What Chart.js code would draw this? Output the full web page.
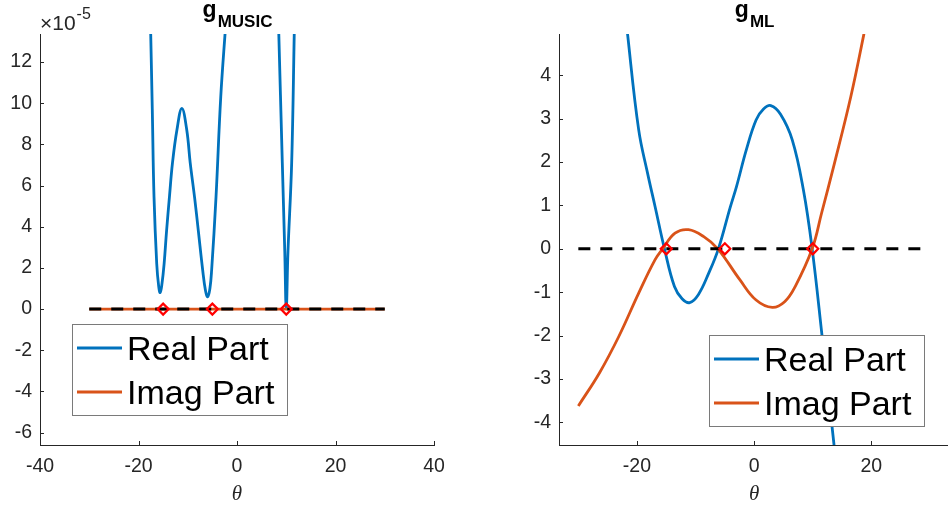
<!DOCTYPE html>
<html>
<head>
<meta charset="utf-8">
<script src="https://cdn.jsdelivr.net/npm/chart.js@4.4.1/dist/chart.umd.min.js"></script>
<style>
  html, body { margin: 0; padding: 0; background: #fff; overflow: hidden; }
  #wrap { position: relative; width: 948px; height: 506px; }
  canvas { position: absolute; top: 0; }
</style>
</head>
<body>
<div id="wrap">
  <canvas id="musicChart" width="474" height="506" style="left:0"></canvas>
  <canvas id="mlChart" width="483" height="506" style="left:474px"></canvas>
</div>
<script>
// g_MUSIC real part, in units of 1e-5 (null splits the curve where it leaves the axes)
const musicTheta = [-17.55, -17.2, -16.85, -16.3, -15.9, -15.6, -15.25, -14.8, -14.3, -13.7, -13.1, -12.2, -11.2,
  -10.2, -9.5, -8.6, -7.85, -6.97, -6.4, -5.95, -5.5, -5.15, -4.26, -3.3, -2.3,
  3,
  8.45, 9.2, 9.7, 10, 10.35, 11.1, 11.65];
const musicReal = [13.7, 9.7, 5.45, 2.2, 1.1, 0.8, 1.2, 2.2, 3.8, 5.5, 7.1, 8.7, 9.75,
  8.7, 7.1, 5.4, 3.8, 1.9, 0.9, 0.6, 1.0, 1.9, 5.45, 10.3, 13.8,
  null,
  13.7, 7.1, 2.8, 0, 2.8, 7.1, 13.7];
const musicImagTheta = [-30, 30];
const musicImag = [0, 0];

// g_ML
const mlRealTheta = [-21.8, -21.6, -19.7, -18.2, -16.9, -15.3, -13.6, -12.3, -11.0, -9.5, -7.75, -6.1, -4.1, -3, -1.34, 0.33,
  1.6, 2.84, 4.5, 6.5, 8.4, 9.9, 11.6, 13.6, 13.8];
const mlReal = [5.3, 4.95, 2.74, 1.75, 0.97, 0, -0.87, -1.15, -1.24, -1.05, -0.56, 0, 0.95, 1.44, 2.28, 2.97,
  3.22, 3.3, 3.1, 2.51, 1.36, 0, -2.02, -4.48, -4.8];
const mlImagTheta = [-30, -26.4, -23.1, -19.7, -16.9, -15.6, -13.5, -11.2, -8.6, -6.2, -2.45, 0.33, 3.1,
  5.2, 7.0, 9.9, 11.5, 13.7, 16.5, 18.7, 18.9];
const mlImag = [-3.62, -2.86, -2.02, -1.02, -0.25, 0, 0.36, 0.44, 0.28, 0, -0.71, -1.18, -1.35,
  -1.22, -0.87, 0, 0.82, 1.97, 3.51, 4.93, 5.1];

// zero reference and the true directions
const zeroTheta = [-30, 30];
const zeroLine = [0, 0];
const rootTheta = [-15, -5, 10];
const rootValue = [0, 0, 0];

// tick labels
const musicXTicks = [-40, -20, 0, 20, 40];
const musicYTicks = [-6, -4, -2, 0, 2, 4, 6, 8, 10, 12];
const mlXTicks = [-20, 0, 20];
const mlYTicks = [-4, -3, -2, -1, 0, 1, 2, 3, 4];

const BLUE = '#0072BD';
const ORANGE = '#D95319';
const AXIS = '#262626';
const SANS = '"Liberation Sans", Arial, Helvetica, sans-serif';

function pts(xs, ys) {
  return xs.map((x, i) => ({x: x, y: ys[i]}));
}

function makeDatasets(realTheta, real, imagTheta, imag) {
  return [
    {
      label: 'Real Part', data: pts(realTheta, real), order: 3,
      borderColor: BLUE, borderWidth: 2.8, pointRadius: 0,
      tension: 0.4, spanGaps: false
    },
    {
      label: 'Imag Part', data: pts(imagTheta, imag), order: 2,
      borderColor: ORANGE, borderWidth: 2.8, pointRadius: 0,
      tension: 0.4
    },
    {
      label: 'zero', data: pts(zeroTheta, zeroLine), order: 1,
      borderColor: '#000', borderWidth: 3, borderDash: [12, 10], pointRadius: 0
    },
    {
      label: 'roots', data: pts(rootTheta, rootValue), order: 0, showLine: false,
      pointStyle: 'rectRot', pointRadius: 5.5, pointBorderWidth: 2.2,
      pointBorderColor: '#ff0000', pointBackgroundColor: 'rgba(0,0,0,0)'
    }
  ];
}

// ticks pointing inwards, title with subscript, theta label, boxed legend
const axesDecor = {
  id: 'axesDecor',
  beforeDatasetsDraw(chart) {
    const {ctx, chartArea: a, scales: {x, y}} = chart;
    ctx.save();
    ctx.strokeStyle = AXIS;
    ctx.lineWidth = 1;
    ctx.beginPath();
    x.ticks.forEach(t => {
      const px = Math.round(x.getPixelForValue(t.value)) + 0.5;
      ctx.moveTo(px, a.bottom);
      ctx.lineTo(px, a.bottom - 4);
    });
    y.ticks.forEach(t => {
      const py = Math.round(y.getPixelForValue(t.value)) + 0.5;
      ctx.moveTo(a.left, py);
      ctx.lineTo(a.left + 4, py);
    });
    ctx.stroke();
    ctx.restore();
  },
  afterDraw(chart, args, opts) {
    const {ctx, chartArea: a} = chart;
    const cx = (a.left + a.right) / 2;
    ctx.save();
    ctx.fillStyle = '#000';
    ctx.textBaseline = 'alphabetic';

    // title g_sub
    ctx.font = 'bold 23px ' + SANS;
    const gw = ctx.measureText('g').width;
    ctx.font = 'bold 17px ' + SANS;
    const sw = ctx.measureText(opts.sub).width;
    const tx = cx - (gw + sw) / 2;
    ctx.font = 'bold 23px ' + SANS;
    ctx.fillText('g', tx, 17);
    ctx.font = 'bold 17px ' + SANS;
    ctx.fillText(opts.sub, tx + gw + 1, 26.5);

    // exponent above the y axis
    if (opts.exponent) {
      ctx.fillStyle = AXIS;
      ctx.font = '21px ' + SANS;
      ctx.fillText('\u00d710', a.left, 30);
      const ew = ctx.measureText('\u00d710').width;
      ctx.font = '16px ' + SANS;
      ctx.fillText(opts.exponent, a.left + ew + 1, 19);
    }

    // x axis label
    ctx.fillStyle = AXIS;
    ctx.font = 'italic 21px "Liberation Serif", "DejaVu Serif", serif';
    ctx.textAlign = 'center';
    ctx.fillText('\u03b8', cx, 500);

    // legend box
    const lg = opts.legend;
    ctx.textAlign = 'left';
    ctx.fillStyle = '#fff';
    ctx.fillRect(lg.left, lg.top, 215, 91);
    ctx.strokeStyle = '#7a7a7a';
    ctx.lineWidth = 1;
    ctx.strokeRect(lg.left + 0.5, lg.top + 0.5, 215, 91);
    ctx.font = '34px ' + SANS;
    chart.data.datasets.slice(0, 2).forEach((ds, i) => {
      const ry = lg.top + 24 + i * 44;
      ctx.strokeStyle = ds.borderColor;
      ctx.lineWidth = 2.8;
      ctx.beginPath();
      ctx.moveTo(lg.left + 5, ry);
      ctx.lineTo(lg.left + 50, ry);
      ctx.stroke();
      ctx.fillStyle = '#000';
      ctx.fillText(ds.label, lg.left + 55, ry + 12);
    });
    ctx.restore();
  }
};

function makeOptions(xMin, xMax, xTicks, yMin, yMax, yTicks, yWidth, padRight, decor) {
  return {
    responsive: false,
    animation: false,
    events: [],
    layout: {padding: {top: 34, right: padRight, bottom: 0, left: 0}},
    plugins: {legend: {display: false}, tooltip: {enabled: false}, axesDecor: decor},
    scales: {
      x: {
        type: 'linear', min: xMin, max: xMax,
        afterFit: s => { s.height = 61; },
        afterBuildTicks: s => { s.ticks = xTicks.map(v => ({value: v})); },
        grid: {display: false, drawTicks: false},
        border: {display: true, color: AXIS, width: 1},
        ticks: {color: AXIS, padding: 10, font: {family: SANS, size: 19.5}, maxRotation: 0}
      },
      y: {
        type: 'linear', min: yMin, max: yMax,
        afterFit: s => { s.width = yWidth; },
        afterBuildTicks: s => { s.ticks = yTicks.map(v => ({value: v})); },
        grid: {display: false, drawTicks: false},
        border: {display: true, color: AXIS, width: 1},
        ticks: {color: AXIS, padding: 8, font: {family: SANS, size: 19.5}}
      }
    }
  };
}

new Chart(document.getElementById('musicChart'), {
  type: 'line',
  data: {datasets: makeDatasets(musicTheta, musicReal, musicImagTheta, musicImag)},
  options: makeOptions(-40, 40, musicXTicks, -6.6, 13.36, musicYTicks, 40, 40,
    {sub: 'MUSIC', exponent: '-5', legend: {left: 72, top: 324}}),
  plugins: [axesDecor]
});

new Chart(document.getElementById('mlChart'), {
  type: 'line',
  data: {datasets: makeDatasets(mlRealTheta, mlReal, mlImagTheta, mlImag)},
  options: makeOptions(-33.3, 33.3, mlXTicks, -4.52, 4.95, mlYTicks, 85, 0,
    {sub: 'ML', exponent: null, legend: {left: 235, top: 335}}),
  plugins: [axesDecor]
});
</script>
</body>
</html>
